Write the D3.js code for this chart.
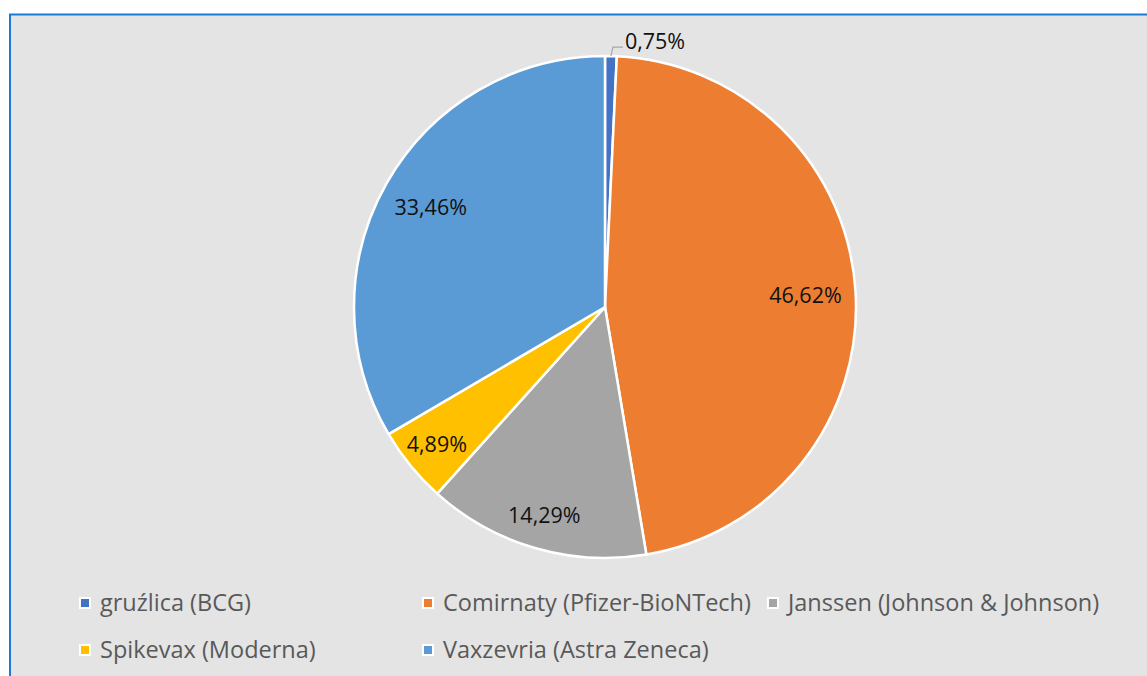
<!DOCTYPE html>
<html>
<head>
<meta charset="utf-8">
<script src="https://cdn.jsdelivr.net/npm/d3@7"></script>
<style>
  html, body { margin: 0; padding: 0; background: #ffffff; }
  svg { display: block; }
</style>
</head>
<body>
<div id="chart"></div>
<script>
// vaccine share data
const vaccines = ['gruźlica (BCG)', 'Comirnaty (Pfizer-BioNTech)', 'Janssen (Johnson & Johnson)', 'Spikevax (Moderna)', 'Vaxzevria (Astra Zeneca)'];
const shares = [0.75, 46.62, 14.29, 4.89, 33.46];
const shareLabels = ['0,75%', '46,62%', '14,29%', '4,89%', '33,46%'];
const colors = ['#4472c4', '#ed7d31', '#a5a5a5', '#ffc000', '#5b9bd5'];

const width = 1147;
const height = 676;
const cx = 605, cy = 307;
const radius = 251;
const fontFamily = '"Open Sans", Lato, sans-serif';

const data = vaccines.map((v, i) => ({ name: v, value: shares[i], label: shareLabels[i], color: colors[i] }));

const svg = d3.select('#chart')
  .append('svg')
  .attr('width', width)
  .attr('height', height);

// chart area with blue frame
svg.append('rect')
  .attr('x', 10)
  .attr('y', 14.5)
  .attr('width', width + 10)
  .attr('height', height + 10)
  .attr('fill', '#e4e4e4')
  .attr('stroke', '#1a7ad4')
  .attr('stroke-width', 2);

const g = svg.append('g')
  .attr('transform', 'translate(' + cx + ',' + cy + ')');

const pie = d3.pie().sort(null).value(d => d.value);
const arc = d3.arc().innerRadius(0).outerRadius(radius);
// big slices get their label a bit further in, like Excel's best fit
const labelArc = d => {
  const r = d.data.value > 25 ? radius * 0.80 : radius * 0.865;
  return d3.arc().innerRadius(r).outerRadius(r).centroid(d);
};

const arcs = pie(data);

g.selectAll('path.slice')
  .data(arcs)
  .enter()
  .append('path')
  .attr('class', 'slice')
  .attr('d', arc)
  .attr('fill', d => d.data.color)
  .attr('stroke', '#ffffff')
  .attr('stroke-width', 2.5)
  .attr('stroke-linejoin', 'round');

// inside labels (skip the tiny first slice)
g.selectAll('text.lbl')
  .data(arcs.filter((d, i) => i > 0))
  .enter()
  .append('text')
  .attr('class', 'lbl')
  .attr('transform', d => {
    const c = labelArc(d);
    return 'translate(' + c[0] + ',' + (c[1] + 7.5) + ')';
  })
  .attr('text-anchor', 'middle')
  .style('font-family', fontFamily)
  .style('font-size', '21.5px')
  .style('fill', '#111111')
  .text(d => d.data.label);

// outside label with leader line for the smallest slice
const small = arcs[0];
const mid = (small.startAngle + small.endAngle) / 2;
const edge = [Math.sin(mid) * radius, -Math.cos(mid) * radius];
const bend = [edge[0] + 2, edge[1] - 9];
const end = [bend[0] + 10, bend[1]];
g.append('polyline')
  .attr('points', [edge, bend, end].map(p => p.join(',')).join(' '))
  .attr('fill', 'none')
  .attr('stroke', '#a6a6a6')
  .attr('stroke-width', 1.2);
g.append('text')
  .attr('x', end[0] + 2)
  .attr('y', end[1] + 2)
  .style('font-family', fontFamily)
  .style('font-size', '21.5px')
  .style('fill', '#111111')
  .text(small.data.label);

// legend
const legendX = [80, 423, 768];
const legendY = [603, 650];
const legend = svg.append('g');
data.forEach((d, i) => {
  const col = i < 3 ? i : i - 3;
  const row = i < 3 ? 0 : 1;
  const item = legend.append('g')
    .attr('transform', 'translate(' + legendX[col] + ',' + legendY[row] + ')');
  item.append('rect')
    .attr('x', 0)
    .attr('y', -5)
    .attr('width', 10)
    .attr('height', 10)
    .attr('fill', d.color)
    .attr('stroke', '#ffffff')
    .attr('stroke-width', 2);
  item.append('text')
    .attr('x', 20)
    .attr('y', 8)
    .style('font-family', fontFamily)
    .style('font-size', '23.5px')
    .style('fill', '#595959')
    .text(d.name);
});
</script>
</body>
</html>
